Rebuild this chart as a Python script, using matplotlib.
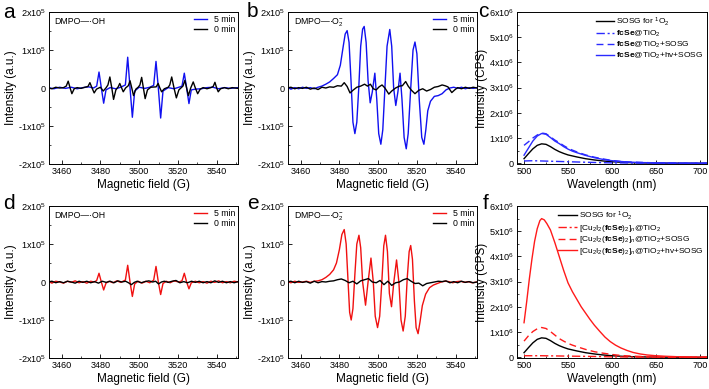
import numpy as np
import matplotlib
matplotlib.use("Agg")
import matplotlib.pyplot as plt
from matplotlib.ticker import FixedLocator, MultipleLocator

plt.rcParams['font.family'] = ['Liberation Sans', 'DejaVu Sans']
plt.rcParams['mathtext.fontset'] = 'custom'
plt.rcParams['mathtext.rm'] = 'Liberation Sans'
plt.rcParams['mathtext.it'] = 'Liberation Sans:italic'
plt.rcParams['mathtext.bf'] = 'Liberation Sans:bold'

# ---- EPR data, field (G) vs intensity (units of 1e5) ----
a_5min = [(3453, 0.01), (3456, -0.02), (3459, 0.02), (3462, -0.01), (3465, 0.02), (3468, -0.02),
          (3471, 0.01), (3474, 0.03), (3476.5, 0.0), (3478.1, 0.05), (3479.3, 0.42), (3480.5, 0.0),
          (3481.7, -0.40), (3482.9, -0.05), (3485, 0.01), (3488, -0.02), (3490.5, 0.02), (3492.9, 0.08),
          (3494.1, 0.81), (3495.3, 0.0), (3496.5, -0.77), (3497.7, -0.08), (3500, 0.02), (3503, -0.01),
          (3505.5, 0.02), (3507.5, 0.07), (3508.7, 0.70), (3509.9, 0.0), (3511.1, -0.79), (3512.3, -0.08),
          (3515, 0.01), (3518, -0.02), (3520.5, 0.02), (3522.1, 0.05), (3523.3, 0.39), (3524.5, 0.0),
          (3525.7, -0.41), (3526.9, -0.05), (3529, -0.03), (3532, -0.02), (3535, 0.01), (3538, 0.02),
          (3541, -0.02), (3544, 0.01), (3547, -0.01), (3551, 0.01)]
a_0min = [(3453, 0.0), (3455, -0.02), (3457, 0.02), (3459, 0.0), (3461, 0.01), (3462.4, 0.05),
          (3463.4, 0.18), (3464.4, 0.0), (3465.3, -0.15), (3466.5, -0.02), (3468, 0.01), (3470, -0.01),
          (3472, 0.02), (3473.6, 0.04), (3474.6, 0.14), (3475.7, 0.0), (3476.8, -0.13), (3478, -0.03),
          (3480, 0.02), (3481.5, -0.08), (3483, 0.01), (3483.9, 0.08), (3484.9, 0.29), (3485.9, 0.0),
          (3486.8, -0.30), (3488, -0.05), (3489.2, 0.03), (3490.0, 0.12), (3490.9, 0.01), (3491.8, -0.10),
          (3493, 0.0), (3494.4, 0.06), (3495.3, 0.19), (3496.2, 0.0), (3497.1, -0.20), (3498.3, -0.03),
          (3499.5, 0.02), (3500.4, 0.08), (3501.3, 0.28), (3502.2, 0.0), (3503.1, -0.28), (3504.3, -0.05),
          (3506, 0.02), (3508.8, 0.03), (3509.8, 0.12), (3510.7, 0.0), (3511.6, -0.10), (3513, -0.02),
          (3515, 0.02), (3515.8, 0.08), (3516.8, 0.29), (3518, 0.0), (3519.2, -0.26), (3520.5, -0.05),
          (3522.6, 0.05), (3523.6, 0.20), (3524.5, 0.0), (3525.4, -0.20), (3526.6, 0.0), (3527.9, 0.16),
          (3529, 0.0), (3530.2, -0.15), (3531.5, -0.03), (3533, 0.01), (3535, -0.02), (3537, 0.01),
          (3538.2, 0.04), (3539.1, 0.15), (3540, 0.0), (3540.8, -0.10), (3542, -0.02), (3544, 0.01),
          (3546, -0.02), (3548, 0.01), (3551, -0.01)]

b_5min = [(3453, 0.02), (3455, -0.03), (3457, 0.01), (3459, -0.02), (3461, 0.02), (3463, -0.01),
          (3465, 0.01), (3467, -0.02), (3469, 0.02), (3471, 0.05), (3473, 0.1), (3475, 0.16),
          (3477, 0.25), (3479, 0.35), (3480.5, 0.6), (3482, 1.1), (3483, 1.42), (3484, 1.51),
          (3485, 1.2), (3486, 0.2), (3487, -0.9), (3488, -1.2), (3489, -0.9), (3490, 0.0),
          (3491, 1.1), (3492, 1.55), (3492.8, 1.62), (3493.8, 1.2), (3494.8, 0.2), (3495.9, -0.39),
          (3497, -0.1), (3498.3, 0.39), (3499.3, -0.3), (3500.3, -1.2), (3501.4, -1.48), (3502.4, -1.1),
          (3503.5, 0.0), (3504.6, 1.1), (3506, 1.54), (3507, 1.1), (3508, 0.0), (3509.1, -0.46),
          (3510.2, -0.1), (3511.3, 0.39), (3512.3, -0.3), (3513.4, -1.3), (3514.5, -1.6), (3515.5, -1.2),
          (3516.7, -0.1), (3518, 1.0), (3519, 1.21), (3520, 0.9), (3521.2, -0.3), (3522.5, -1.3),
          (3523.6, -1.48), (3524.6, -1.1), (3525.6, -0.6), (3527, -0.35), (3529, -0.22), (3531, -0.2),
          (3533, -0.15), (3535, -0.05), (3537, 0.0), (3539, 0.02), (3541, -0.01), (3543, 0.02),
          (3545, -0.02), (3547, 0.01), (3549, -0.01), (3551, 0.01)]
b_0min = [(3453, 0.0), (3455, 0.02), (3457, -0.02), (3459, 0.01), (3461, -0.01), (3463, 0.02),
          (3465, -0.03), (3467, 0.0), (3469, -0.04), (3471, 0.02), (3473, 0.0), (3475, 0.03),
          (3477, 0.02), (3479, 0.06), (3481, 0.05), (3482.5, 0.14), (3484, 0.04), (3485.5, -0.13),
          (3487, -0.06), (3489, 0.02), (3491, 0.05), (3493, 0.1), (3494.5, 0.05), (3496, 0.1),
          (3497.5, -0.02), (3499, -0.05), (3500.5, 0.03), (3502, 0.08), (3503.5, 0.0), (3505.5, -0.16),
          (3507, -0.08), (3509, 0.0), (3511, 0.05), (3512.5, 0.06), (3514.2, 0.17), (3515.5, 0.05),
          (3517, -0.05), (3519, -0.15), (3521, -0.06), (3523, -0.02), (3525, -0.08), (3527, -0.04),
          (3529, 0.02), (3531, 0.04), (3533, 0.08), (3534.5, 0.06), (3536, 0.03), (3538, -0.12),
          (3539.5, -0.05), (3541, 0.01), (3543, -0.02), (3545, 0.02), (3547, -0.01), (3549, 0.02),
          (3551, 0.0)]

d_5min = [(3453, 0.02), (3455, -0.03), (3457, 0.02), (3459, 0.0), (3461, -0.03), (3463, 0.02),
          (3465, -0.01), (3467, 0.03), (3469, -0.02), (3471, 0.01), (3473, -0.03), (3475, 0.02),
          (3476.8, 0.0), (3478.1, 0.04), (3479.3, 0.23), (3480.5, 0.0), (3481.7, -0.21), (3482.9, -0.03),
          (3484.5, 0.02), (3486.5, -0.02), (3488.5, 0.03), (3490.5, -0.01), (3492.9, 0.05), (3494.1, 0.44),
          (3495.3, 0.0), (3496.5, -0.38), (3497.7, -0.05), (3499.5, 0.02), (3501.5, -0.03), (3503.5, 0.02),
          (3505.5, -0.02), (3507.5, 0.05), (3508.7, 0.41), (3509.9, 0.0), (3511.1, -0.33), (3512.3, -0.04),
          (3514, 0.02), (3516, -0.02), (3518, 0.03), (3520.5, 0.0), (3522.1, 0.03), (3523.3, 0.23),
          (3524.5, 0.0), (3525.7, -0.18), (3526.9, -0.02), (3529, 0.02), (3531, -0.02), (3533, 0.01),
          (3535, -0.03), (3537, 0.02), (3539, -0.01), (3541, 0.03), (3543, -0.02), (3545, 0.01),
          (3547, -0.02), (3549, 0.02), (3551, 0.0)]
d_0min = [(3453, 0.0), (3455, 0.02), (3457, -0.02), (3459, 0.01), (3461, -0.02), (3463, 0.02),
          (3465, 0.0), (3467, -0.03), (3469, 0.02), (3471, -0.01), (3473, 0.02), (3475, -0.02),
          (3477, 0.01), (3479, -0.03), (3481, 0.02), (3483, -0.01), (3485, 0.02), (3487, -0.02),
          (3489, 0.03), (3491, 0.0), (3493, 0.02), (3494.5, -0.02), (3496, -0.07), (3497.5, -0.01),
          (3499, 0.02), (3501, -0.02), (3503, 0.01), (3505, 0.03), (3507, 0.0), (3508.5, 0.02),
          (3510, -0.05), (3511.5, 0.0), (3513, 0.02), (3515, -0.01), (3517, 0.02), (3519, 0.04),
          (3521, -0.02), (3523, 0.01), (3525, -0.02), (3527, 0.02), (3529, -0.01), (3531, 0.02),
          (3533, -0.02), (3535, 0.01), (3537, -0.02), (3539, 0.03), (3541, -0.01), (3543, 0.02),
          (3545, -0.02), (3547, 0.01), (3549, -0.02), (3551, 0.01)]

e_5min = [(3453, 0.01), (3455, -0.02), (3457, 0.02), (3459, -0.01), (3461, 0.0), (3463, 0.02),
          (3465, -0.01), (3467, 0.02), (3469, 0.03), (3471, 0.06), (3473, 0.12), (3475, 0.2),
          (3477, 0.32), (3478.5, 0.5), (3480, 0.85), (3481.3, 1.25), (3482.5, 1.38), (3483.5, 1.0),
          (3484.5, 0.0), (3485.3, -0.8), (3486.1, -1.0), (3487, -0.7), (3488, 0.2), (3489, 1.0),
          (3490.1, 1.23), (3491, 0.9), (3492, 0.0), (3493.5, -0.61), (3494.8, 0.0), (3496.3, 0.63),
          (3497.5, 0.0), (3498.5, -0.9), (3499.7, -1.2), (3500.8, -0.9), (3501.9, 0.0), (3502.9, 0.95),
          (3503.8, 1.23), (3504.8, 0.8), (3505.8, -0.3), (3506.9, -0.65), (3508.1, 0.0), (3509.5, 0.58),
          (3510.7, 0.0), (3511.8, -1.0), (3512.9, -1.29), (3514, -0.9), (3515, 0.1), (3516, 0.8),
          (3516.8, 0.96), (3517.7, 0.6), (3518.7, -0.5), (3519.6, -1.2), (3520.6, -1.36), (3521.6, -1.05),
          (3522.8, -0.62), (3524.5, -0.32), (3526.5, -0.15), (3528.5, -0.08), (3530.5, -0.04), (3532.5, 0.0),
          (3534.5, 0.02), (3536.5, 0.01), (3538.5, -0.02), (3540.5, 0.01), (3542.5, 0.02), (3544.5, -0.01),
          (3546.5, 0.01), (3548.5, -0.02), (3551, 0.0)]
e_0min = [(3453, 0.0), (3455, 0.02), (3457, -0.02), (3459, 0.02), (3461, -0.01), (3463, 0.01),
          (3465, -0.03), (3467, 0.02), (3469, -0.02), (3471, 0.01), (3473, 0.0), (3475, 0.02),
          (3477, 0.03), (3479, 0.06), (3481, 0.08), (3483, 0.04), (3485, -0.02), (3487, 0.02),
          (3489, -0.05), (3491, 0.03), (3493, 0.06), (3495, 0.09), (3497, 0.0), (3499, -0.02),
          (3501, 0.04), (3503, -0.07), (3505, 0.02), (3507, -0.09), (3509, -0.02), (3511, 0.0),
          (3513, 0.06), (3515, 0.09), (3517, 0.02), (3519, -0.04), (3521, -0.03), (3523, -0.1),
          (3525, -0.04), (3527, -0.02), (3529, 0.0), (3531, 0.02), (3533, 0.01), (3535, 0.03),
          (3537, -0.02), (3539, 0.01), (3541, -0.02), (3543, 0.02), (3545, -0.01), (3547, 0.01),
          (3549, -0.02), (3551, 0.0)]

# ---- emission data, wavelength (nm) vs intensity (units of 1e6) ----
sosg = [(500, 0.18), (505, 0.38), (510, 0.57), (515, 0.71), (520, 0.77), (525, 0.75), (530, 0.66),
        (535, 0.55), (540, 0.46), (545, 0.39), (550, 0.33), (555, 0.29), (560, 0.25), (570, 0.18),
        (580, 0.13), (590, 0.09), (600, 0.06), (610, 0.04), (620, 0.025), (640, 0.01), (660, 0.005),
        (680, 0.0), (710, 0.0)]
c_tio2 = [(500, 0.09), (510, 0.1), (520, 0.09), (530, 0.08), (540, 0.07), (550, 0.06), (560, 0.05),
          (570, 0.04), (580, 0.03), (600, 0.015), (620, 0.01), (650, 0.0), (710, 0.0)]
c_sosg = [(500, 0.71), (505, 0.85), (510, 1.0), (515, 1.12), (520, 1.2), (525, 1.17), (530, 1.05),
          (535, 0.92), (540, 0.82), (545, 0.7), (550, 0.6), (555, 0.52), (560, 0.45), (570, 0.33),
          (580, 0.24), (590, 0.17), (600, 0.11), (610, 0.07), (620, 0.05), (640, 0.025), (660, 0.01),
          (680, 0.005), (710, 0.0)]
c_hv = [(500, 0.32), (505, 0.6), (510, 0.88), (515, 1.08), (520, 1.18), (525, 1.15), (530, 1.02),
        (535, 0.88), (540, 0.78), (545, 0.66), (550, 0.56), (555, 0.48), (560, 0.42), (570, 0.31),
        (580, 0.22), (590, 0.15), (600, 0.1), (610, 0.07), (620, 0.045), (630, 0.03), (650, 0.015),
        (670, 0.005), (690, 0.0), (710, 0.0)]

f_tio2 = [(500, 0.06), (520, 0.06), (540, 0.05), (560, 0.04), (580, 0.03), (600, 0.015), (630, 0.005),
          (660, 0.0), (710, 0.0)]
f_sosg = [(500, 0.64), (505, 0.85), (510, 1.02), (515, 1.13), (520, 1.18), (525, 1.14), (530, 1.02),
          (535, 0.88), (540, 0.74), (545, 0.64), (550, 0.55), (555, 0.48), (560, 0.42), (570, 0.31),
          (580, 0.22), (590, 0.16), (600, 0.11), (610, 0.07), (620, 0.05), (640, 0.02), (660, 0.01),
          (690, 0.0), (710, 0.0)]
f_hv = [(500, 1.37), (503, 2.2), (506, 3.1), (509, 3.9), (512, 4.6), (515, 5.1), (518, 5.42), (520, 5.5),
        (523, 5.45), (526, 5.3), (530, 5.05), (535, 4.55), (540, 4.0), (545, 3.45), (550, 2.95),
        (555, 2.6), (560, 2.3), (565, 2.0), (570, 1.75), (575, 1.5), (580, 1.27), (586, 1.03),
        (592, 0.8), (598, 0.62), (604, 0.48), (610, 0.37), (617, 0.27), (624, 0.19), (632, 0.13),
        (640, 0.09), (650, 0.06), (660, 0.04), (675, 0.02), (690, 0.01), (710, 0.0)]

c_labels = ['SOSG for $^1$O$_2$', r'$\mathbf{fcSe}$@TiO$_2$', r'$\mathbf{fcSe}$@TiO$_2$+SOSG',
            r'$\mathbf{fcSe}$@TiO$_2$+hv+SOSG']
f_labels = ['SOSG for $^1$O$_2$', r'[Cu$_2$I$_2$($\mathbf{fcSe}$)$_2$]$_n$@TiO$_2$',
            r'[Cu$_2$I$_2$($\mathbf{fcSe}$)$_2$]$_n$@TiO$_2$+SOSG',
            r'[Cu$_2$I$_2$($\mathbf{fcSe}$)$_2$]$_n$@TiO$_2$+hv+SOSG']

BLUE = '#1010f0'
RED = '#f01010'
TICK_FS = 6.6
LAB_FS = 8.5


def xy(data, scale):
    arr = np.array(data, dtype=float)
    return arr[:, 0], arr[:, 1] * scale


def style(ax):
    ax.tick_params(which='both', direction='in', labelsize=TICK_FS, pad=2)
    ax.tick_params(which='major', length=3, width=0.6)
    ax.tick_params(which='minor', length=1.6, width=0.5)
    for s in ax.spines.values():
        s.set_linewidth(0.7)


def epr_panel(ax, d5, d0, col, tag):
    x, y = xy(d5, 1e5)
    ax.plot(x, y, color=col, lw=1.0, label='5 min')
    x, y = xy(d0, 1e5)
    ax.plot(x, y, color='black', lw=1.0, label='0 min')
    ax.set_xlim(3453.5, 3551)
    ax.set_ylim(-2e5, 2e5)
    ax.xaxis.set_major_locator(FixedLocator([3460, 3480, 3500, 3520, 3540]))
    ax.xaxis.set_minor_locator(MultipleLocator(10))
    ax.set_yticks([-2e5, -1e5, 0, 1e5, 2e5])
    ax.set_yticklabels(['-2x10$^5$', '-1x10$^5$', '0', '1x10$^5$', '2x10$^5$'])
    ax.yaxis.set_minor_locator(MultipleLocator(0.5e5))
    ax.set_xlabel('Magnetic field (G)', fontsize=LAB_FS, labelpad=2)
    ax.set_ylabel('Intensity (a.u.)', fontsize=LAB_FS, labelpad=1)
    ax.text(0.03, 0.97, tag, transform=ax.transAxes, fontsize=6.3, va='top', ha='left')
    ax.legend(loc='upper right', frameon=False, fontsize=6.3, handlelength=1.5,
              handletextpad=0.8, labelspacing=0.15, borderaxespad=0.1, borderpad=0.2)
    style(ax)


def pl_panel(ax, col, tio2, sosg_tio2, hv, labels, lfs):
    x, y = xy(sosg, 1e6)
    ax.plot(x, y, color='black', lw=1.0, label=labels[0])
    x, y = xy(tio2, 1e6)
    ax.plot(x, y, color=col, lw=1.0, ls=(0, (6, 2, 1.5, 2)), label=labels[1])
    x, y = xy(sosg_tio2, 1e6)
    ax.plot(x, y, color=col, lw=1.0, ls=(0, (5, 3)), label=labels[2])
    x, y = xy(hv, 1e6)
    ax.plot(x, y, color=col, lw=1.0, label=labels[3])
    ax.set_xlim(492, 708)
    ax.set_ylim(-0.03e6, 6e6)
    ax.set_xticks([500, 550, 600, 650, 700])
    ax.xaxis.set_minor_locator(MultipleLocator(25))
    ax.set_yticks([0, 1e6, 2e6, 3e6, 4e6, 5e6, 6e6])
    ax.set_yticklabels(['0'] + ['%dx10$^6$' % i for i in range(1, 7)])
    ax.yaxis.set_minor_locator(MultipleLocator(0.5e6))
    ax.set_xlabel('Wavelength (nm)', fontsize=LAB_FS, labelpad=2)
    ax.set_ylabel('Intensity (CPS)', fontsize=LAB_FS, labelpad=1)
    ax.legend(loc='upper right', frameon=False, fontsize=lfs, handlelength=2.2,
              handletextpad=0.25, labelspacing=0.1, borderaxespad=0.2, borderpad=0.2)
    style(ax)


fig = plt.figure(figsize=(7.09, 3.89), dpi=100)
W, H = 709.0, 389.0
lefts = [49, 288, 517]
widths = [189, 189, 190]
tops = [12, 206]
axs = {}
for r, top in enumerate(tops):
    for c, lft in enumerate(lefts):
        axs[(r, c)] = fig.add_axes([lft / W, 1 - (top + 152) / H, widths[c] / W, 152 / H])

epr_panel(axs[(0, 0)], a_5min, a_0min, BLUE, 'DMPO—·OH')
epr_panel(axs[(0, 1)], b_5min, b_0min, BLUE, r'DMPO—·O$_2^{-}$')
pl_panel(axs[(0, 2)], '#2a2aff', c_tio2, c_sosg, c_hv, c_labels, 6.0)
epr_panel(axs[(1, 0)], d_5min, d_0min, RED, 'DMPO—·OH')
epr_panel(axs[(1, 1)], e_5min, e_0min, RED, r'DMPO—·O$_2^{-}$')
pl_panel(axs[(1, 2)], '#ff1a1a', f_tio2, f_sosg, f_hv, f_labels, 6.0)

letters = [('a', 3, 18), ('b', 247, 17), ('c', 478, 17), ('d', 3, 209), ('e', 247, 209), ('f', 483, 209)]
for t, px, py in letters:
    fig.text(px / W, 1 - py / H, t, fontsize=15, ha='left', va='baseline')

fig.savefig('out.png', dpi=100)
